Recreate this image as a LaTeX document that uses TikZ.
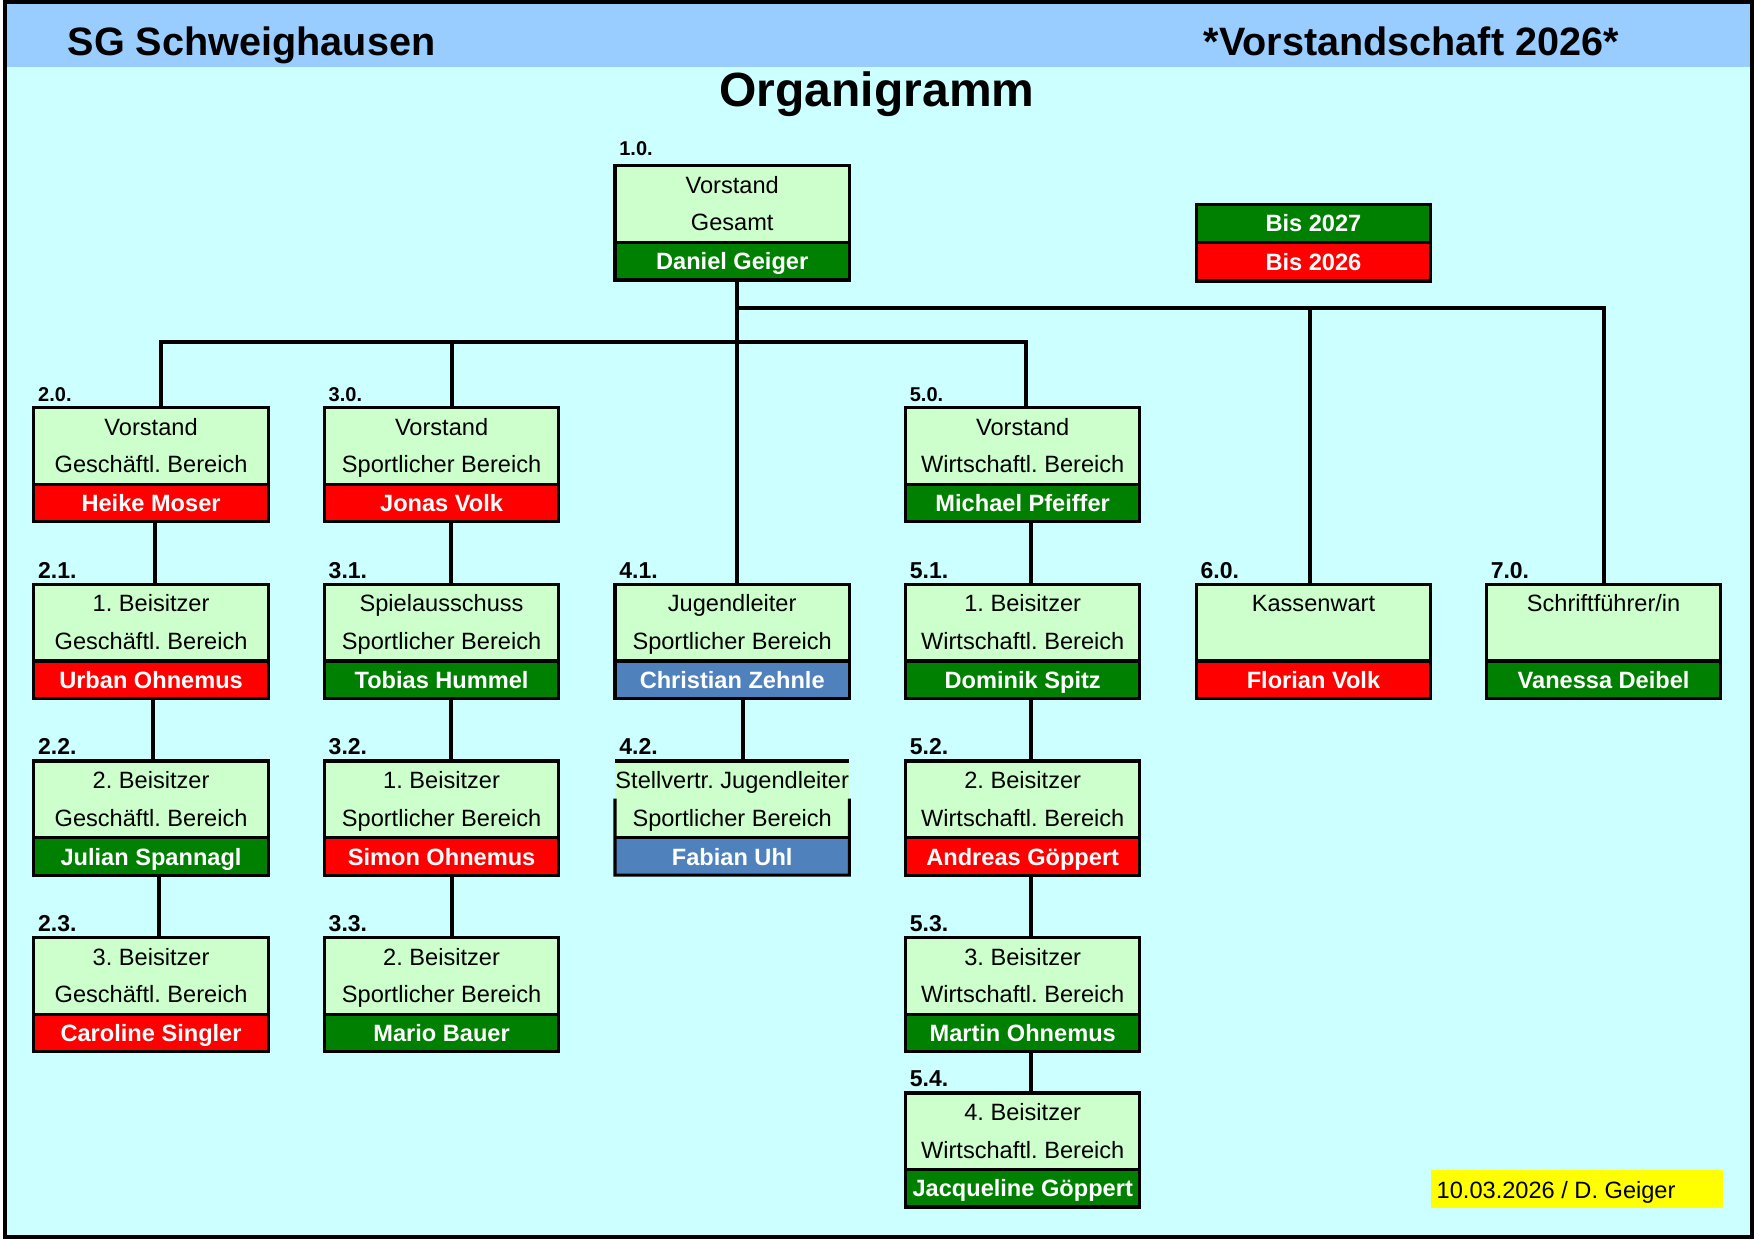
\documentclass[tikz,border=0pt]{standalone}
\usepackage{fontspec}
\setmainfont{Liberation Sans}
\frenchspacing
\definecolor{hdr}{HTML}{99CCFF}
\definecolor{bgc}{HTML}{CCFFFF}
\definecolor{boxg}{HTML}{CCFFCC}
\definecolor{dg}{HTML}{008000}
\definecolor{rd}{HTML}{FF0000}
\definecolor{bl}{HTML}{4F81BD}
\definecolor{yl}{HTML}{FFFF00}
\tikzset{
  boxnode/.style={anchor=north west, minimum width=117.17pt, minimum height=57.05pt, inner sep=0pt, outer sep=0pt, fill=boxg},
  bord/.style={line width=1.6pt, line join=miter},
  conn/.style={line width=2pt},
  txt/.style={anchor=base, inner sep=0pt, font=\fontsize{11.8pt}{14pt}\selectfont},
  nm/.style={anchor=base, inner sep=0pt, text=white, font=\bfseries\fontsize{11.8pt}{14pt}\selectfont},
  lblA/.style={anchor=base west, inner sep=0pt, font=\bfseries\fontsize{10pt}{12pt}\selectfont},
  lblB/.style={anchor=base west, inner sep=0pt, font=\bfseries\fontsize{11.5pt}{13pt}\selectfont},
}
% #1 name, #2 x, #3 y, #4 label, #5 label style, #6 line1, #7 line2, #8 person, #9 colour
\newcommand\pbox[9]{%
  \node[boxnode] (#1) at (#2,#3) {};
  \fill[#9] (#2,#3+68.5) rectangle (#2+209.5,#3+102);
  \draw[bord] (#1.north west) rectangle (#1.south east) (#2,#3+68.5) -- (#2+209.5,#3+68.5);
  \node[#5] (#1-l) at (#2+3.5,#3-5.5) {#4};
  \node[txt] (#1-a) at (#2+104.75,#3+24.5) {#6};
  \node[txt] (#1-b) at (#2+104.75,#3+58.2) {#7};
  \node[nm] (#1-c) at (#2+104.75,#3+93) {#8};
}
\begin{document}
\begin{tikzpicture}[x=0.5593pt,y=-0.5593pt]
\useasboundingbox (0,0) rectangle (1568,1109);
\fill[white] (0,0) rectangle (1568,1109);
\fill[bgc] (4.3,1.5) rectangle (1566.3,1105.9);
\fill[hdr] (4.3,1.5) rectangle (1566.3,59.6);
\draw[line width=2pt] (4.3,1.5) rectangle (1566.3,1105.9);

\node[anchor=base west, inner sep=0pt, font=\bfseries\fontsize{19.8pt}{22pt}\selectfont] (t1) at (60.2,49.5) {SG Schweighausen};
\node[anchor=base west, inner sep=0pt, font=\bfseries\fontsize{19.8pt}{22pt}\selectfont] (t2) at (1075.6,49.5) {*Vorstandschaft 2026*};
\node[anchor=base, inner sep=0pt, font=\bfseries\fontsize{24pt}{28pt}\selectfont] (t3) at (784,95.4) {Organigramm};

% legend
\node[boxnode, fill=dg, minimum height=38.4pt] (leg) at (1069.4,182.5) {};
\fill[rd] (1069.4,216.7) rectangle (1278.9,251.2);
\draw[bord] (leg.north west) rectangle (leg.south east) (1069.4,216.7) -- (1278.9,216.7);
\node[nm] (leg-a) at (1174.15,207) {Bis 2027};
\node[nm] (leg-b) at (1174.15,241.5) {Bis 2026};

% date
\node[anchor=north west, fill=yl, minimum width=146pt, minimum height=19pt, inner sep=0pt, outer sep=0pt] (date) at (1279,1046) {};
\node[anchor=base west, inner sep=0pt, font=\fontsize{11.8pt}{14pt}\selectfont] (datet) at (1284,1071) {10.03.2026 / D. Geiger};

% boxes
\pbox{n10}{549.8}{148.3}{1.0.}{lblA,yshift=2pt}{Vorstand}{Gesamt}{Daniel Geiger}{dg}
\pbox{n20}{30.3}{364.4}{2.0.}{lblA}{Vorstand}{Geschäftl. Bereich}{Heike Moser}{rd}
\pbox{n30}{290}{364.4}{3.0.}{lblA}{Vorstand}{Sportlicher Bereich}{Jonas Volk}{rd}
\pbox{n50}{809.5}{364.4}{5.0.}{lblA}{Vorstand}{Wirtschaftl. Bereich}{Michael Pfeiffer}{dg}
\pbox{n21}{30.3}{522.4}{2.1.}{lblB}{1. Beisitzer}{Geschäftl. Bereich}{Urban Ohnemus}{rd}
\pbox{n31}{290}{522.4}{3.1.}{lblB}{Spielausschuss}{Sportlicher Bereich}{Tobias Hummel}{dg}
\pbox{n41}{549.8}{522.4}{4.1.}{lblB}{Jugendleiter}{Sportlicher Bereich}{Christian Zehnle}{bl}
\pbox{n51}{809.5}{522.4}{5.1.}{lblB}{1. Beisitzer}{Wirtschaftl. Bereich}{Dominik Spitz}{dg}
\pbox{n60}{1069.4}{522.4}{6.0.}{lblB}{Kassenwart}{}{Florian Volk}{rd}
\pbox{n70}{1328.8}{522.4}{7.0.}{lblB}{Schriftführer/in}{}{Vanessa Deibel}{dg}
\pbox{n22}{30.3}{680.3}{2.2.}{lblB}{2. Beisitzer}{Geschäftl. Bereich}{Julian Spannagl}{dg}
\pbox{n32}{290}{680.3}{3.2.}{lblB}{1. Beisitzer}{Sportlicher Bereich}{Simon Ohnemus}{rd}
\pbox{n52}{809.5}{680.3}{5.2.}{lblB}{2. Beisitzer}{Wirtschaftl. Bereich}{Andreas Göppert}{rd}
\pbox{n23}{30.3}{838.2}{2.3.}{lblB}{3. Beisitzer}{Geschäftl. Bereich}{Caroline Singler}{rd}
\pbox{n33}{290}{838.2}{3.3.}{lblB}{2. Beisitzer}{Sportlicher Bereich}{Mario Bauer}{dg}
\pbox{n53}{809.5}{838.2}{5.3.}{lblB}{3. Beisitzer}{Wirtschaftl. Bereich}{Martin Ohnemus}{dg}
\pbox{n54}{809.5}{977}{5.4.}{lblB}{4. Beisitzer}{Wirtschaftl. Bereich}{Jacqueline Göppert}{dg}

% 4.2 (side borders missing beside the first line)
\node[boxnode] (n42) at (549.8,680.3) {};
\fill[bl] (549.8,748.8) rectangle (759.3,782.3);
\draw[bord] (n42.north west) -- (n42.north east);
\draw[bord] (549.8,714) -- (n42.south west) -- (n42.south east) -- (759.3,714);
\draw[bord] (549.8,748.8) -- (759.3,748.8);
\node[lblB] (n42-l) at (553.3,674.8) {4.2.};
\node[txt] (n42-a) at (654.55,704.8) {Stellvertr. Jugendleiter};
\node[txt] (n42-b) at (654.55,738.5) {Sportlicher Bereich};
\node[nm] (n42-c) at (654.55,773.3) {Fabian Uhl};

% connectors
\coordinate (ub) at (658.8,275.6);
\coordinate (lb) at (658.8,306);
\draw[conn] ([xshift=2.4pt]n10.south) -- ([xshift=2.4pt]n41.north);
\draw[conn] (ub) -| ([xshift=-1.8pt]n60.north);
\draw[conn] (ub) -| (n70.north);
\draw[conn] ([xshift=5pt]n20.north) |- (lb) -| ([xshift=1.7pt]n50.north);
\draw[conn] ([xshift=5pt]n30.north) -- ([xshift=5pt]n30.north |- lb);
\draw[conn] ([xshift=2.2pt]n20.south) -- ([xshift=2.2pt]n21.north);
\draw[conn] ([xshift=1.1pt]n21.south) -- ([xshift=1.1pt]n22.north);
\draw[conn] ([xshift=3.9pt]n22.south) -- ([xshift=3.9pt]n23.north);
\draw[conn] ([xshift=4.5pt]n30.south) -- ([xshift=4.5pt]n31.north);
\draw[conn] ([xshift=4.5pt]n31.south) -- ([xshift=4.5pt]n32.north);
\draw[conn] ([xshift=5pt]n32.south) -- ([xshift=5pt]n33.north);
\draw[conn] ([xshift=5.3pt]n41.south) -- ([xshift=5.3pt]n42.north);
\draw[conn] ([xshift=4pt]n50.south) -- ([xshift=4pt]n51.north);
\draw[conn] ([xshift=4pt]n51.south) -- ([xshift=4pt]n52.north);
\draw[conn] ([xshift=4pt]n52.south) -- ([xshift=4pt]n53.north);
\draw[conn] ([xshift=4pt]n53.south) -- ([xshift=4pt]n54.north);
\end{tikzpicture}
\end{document}
